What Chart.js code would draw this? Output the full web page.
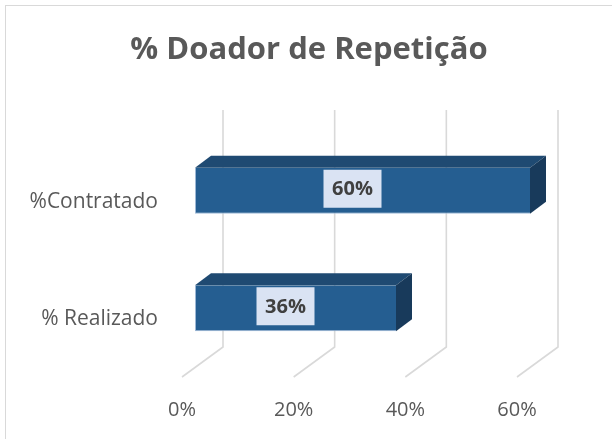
<!DOCTYPE html>
<html>
<head>
<meta charset="utf-8">
<script src="https://cdn.jsdelivr.net/npm/chart.js@4/dist/chart.umd.min.js"></script>
<style>
  html, body { margin: 0; padding: 0; background: #fff; }
  #wrap { width: 612px; height: 439px; }
</style>
</head>
<body>
<div id="wrap"><canvas id="chart" width="612" height="439"></canvas></div>
<script>
// data
const categories = ['%Contratado', '% Realizado']
const values = [60, 36]
const tickValues = [0, 20, 40, 60]

const frontColor = '#255e91'
const topColor = '#1f4a72'
const sideColor = '#183a5b'
const gridColor = '#d9d9d9'
const textColor = '#595959'

// oblique offsets of the fake 3D box
const depth = { dx: 16, dy: -12 }      // bar front -> bar back
const backShift = 28                    // bar front plane -> back wall
const floorShift = { dx: -13, dy: 10 }  // bar front plane -> floor front edge

const frame = {
  id: 'frame',
  beforeDraw(chart) {
    const ctx = chart.ctx
    ctx.save()
    ctx.fillStyle = '#fff'
    ctx.fillRect(0, 0, chart.width, chart.height)
    ctx.strokeStyle = '#d9d9d9'
    ctx.lineWidth = 1
    ctx.strokeRect(5.5, 5.5, 700, 700)
    ctx.restore()
  }
}

const grid3d = {
  id: 'grid3d',
  beforeDatasetsDraw(chart) {
    const { ctx, chartArea } = chart
    const xs = chart.scales.x
    const yTop = chartArea.top - 22
    const yFloor = chartArea.bottom - 20
    ctx.save()
    ctx.strokeStyle = gridColor
    ctx.lineWidth = 1.6
    tickValues.forEach((v) => {
      const px = xs.getPixelForValue(v) + backShift
      ctx.beginPath()
      ctx.moveTo(px, yTop)
      ctx.lineTo(px, yFloor)
      ctx.lineTo(px - backShift + floorShift.dx, chartArea.bottom + floorShift.dy)
      ctx.stroke()
    })
    ctx.restore()
  }
}

const bars3d = {
  id: 'bars3d',
  afterDatasetsDraw(chart) {
    const ctx = chart.ctx
    const meta = chart.getDatasetMeta(0)
    ctx.save()
    meta.data.forEach((bar, i) => {
      const top = bar.y - bar.height / 2
      const bottom = bar.y + bar.height / 2
      const left = bar.base
      const right = bar.x
      // top face
      ctx.fillStyle = topColor
      ctx.beginPath()
      ctx.moveTo(left, top)
      ctx.lineTo(right, top)
      ctx.lineTo(right + depth.dx, top + depth.dy)
      ctx.lineTo(left + depth.dx, top + depth.dy)
      ctx.closePath()
      ctx.fill()
      // side face
      ctx.fillStyle = sideColor
      ctx.beginPath()
      ctx.moveTo(right, top)
      ctx.lineTo(right + depth.dx, top + depth.dy)
      ctx.lineTo(right + depth.dx, bottom + depth.dy)
      ctx.lineTo(right, bottom)
      ctx.closePath()
      ctx.fill()

      // data label
      const txt = values[i] + '%'
      const cx = (left + right) / 2 - 10
      const cy = bar.y - 2
      ctx.fillStyle = '#dae3f3'
      ctx.fillRect(cx - 29, cy - 19, 58, 38)
      ctx.fillStyle = '#404040'
      ctx.font = 'bold 20px "Open Sans"'
      ctx.textAlign = 'center'
      ctx.textBaseline = 'middle'
      ctx.fillText(txt, cx, cy + 1)
    })
    ctx.restore()
  }
}

const config = {
  type: 'bar',
  data: {
    labels: categories,
    datasets: [{
      data: values,
      backgroundColor: frontColor,
      borderColor: '#9db8d6',
      borderWidth: { left: 1, bottom: 1, top: 0, right: 0 },
      borderSkipped: false,
      categoryPercentage: 1,
      barPercentage: 0.39
    }]
  },
  options: {
    indexAxis: 'y',
    responsive: false,
    animation: false,
    layout: { padding: { left: 6, right: 0, top: 0, bottom: 0 } },
    plugins: {
      legend: { display: false },
      tooltip: { enabled: false },
      title: {
        display: true,
        text: '% Doador de Repetição',
        color: textColor,
        font: { family: 'Open Sans', size: 31, weight: 'bold', lineHeight: 1.2 },
        padding: { top: 32, bottom: 62.8 }
      }
    },
    scales: {
      x: {
        min: 0,
        max: 60,
        grid: { display: false, drawTicks: false },
        border: { display: false },
        afterFit: (scale) => { scale.height = 72 },
        ticks: {
          stepSize: 20,
          padding: 31,
          labelOffset: -13,
          color: textColor,
          font: { family: 'Open Sans', size: 20 },
          callback: (v) => v + '%'
        }
      },
      y: {
        grid: { display: false, drawTicks: false },
        border: { display: false },
        afterFit: (scale) => { scale.width = 189 },
        ticks: {
          padding: 37,
          labelOffset: 11,
          color: textColor,
          font: { family: 'Open Sans', size: 21 }
        }
      },
      // empty right axis, only keeps room for the 3D depth on the right
      yRight: {
        type: 'category',
        position: 'right',
        grid: { display: false, drawTicks: false },
        border: { display: false },
        ticks: { display: false },
        afterFit: (scale) => { scale.width = 82 }
      }
    }
  },
  plugins: [frame, grid3d, bars3d]
}

new Chart(document.getElementById('chart'), config)
</script>
</body>
</html>
